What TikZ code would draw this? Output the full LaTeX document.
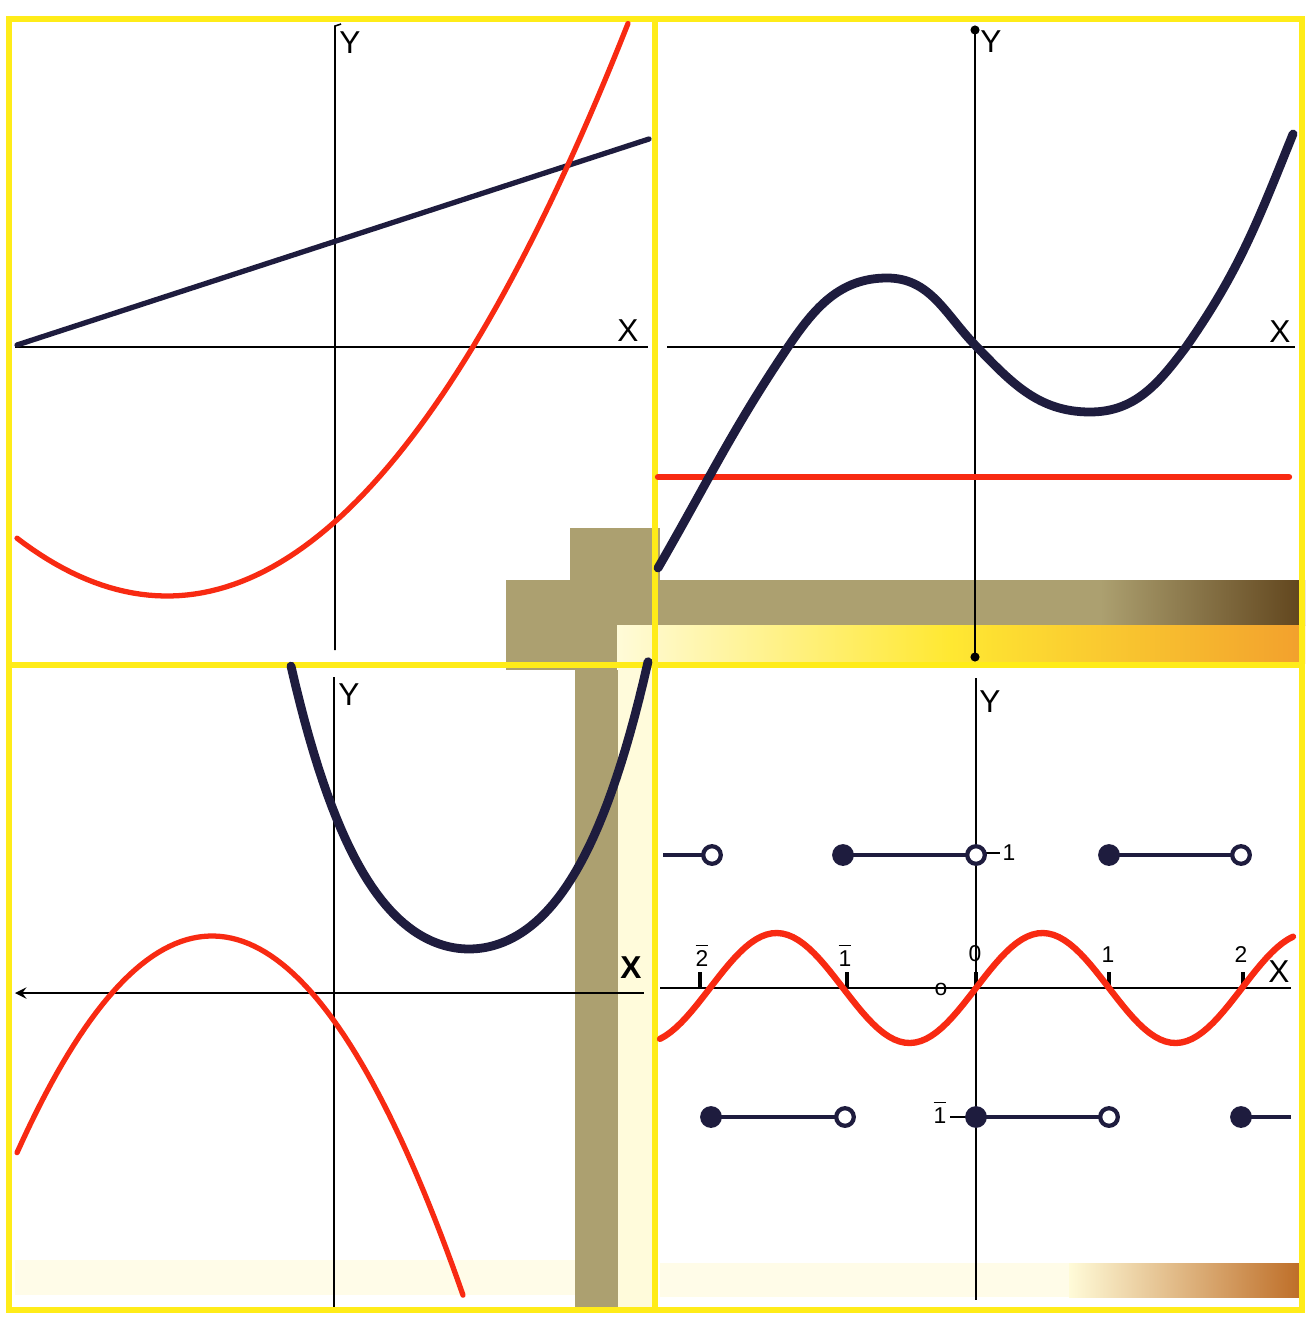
\documentclass[tikz,border=0pt]{standalone}
\usepackage{fontspec}
\setmainfont{Liberation Sans}
\definecolor{jaune}{RGB}{255,236,25}
\definecolor{rouge}{RGB}{248,42,18}
\definecolor{encre}{RGB}{30,28,62}
\definecolor{scotch}{RGB}{172,160,112}
\definecolor{scotchfonce}{RGB}{96,68,28}
\definecolor{scotchclair}{RGB}{255,248,190}
\definecolor{jaunevif}{RGB}{255,232,50}
\definecolor{orangeclair}{RGB}{242,160,45}
\definecolor{brunclair}{RGB}{190,110,40}
\newcommand{\barre}[1]{$\overline{\mbox{#1}}$}

\begin{document}
\begin{tikzpicture}[x=0.01cm, y=-0.01cm]
% définition des styles
\tikzstyle{cadre}=[draw=jaune, line width=1.5pt]
\tikzstyle{axe}=[draw=black, line width=0.45pt]
\tikzstyle{courberouge}=[draw=rouge, line width=1.5pt, line cap=round]
\tikzstyle{courbenoire}=[draw=encre, line width=2.5pt, line cap=round]
\tikzstyle{palier}=[draw=encre, line width=1.4pt]
\tikzstyle{ouvert}=[draw=encre, fill=white, line width=1.2pt]
\tikzstyle{lettre}=[font=\fontsize{9}{10}\selectfont, inner sep=0pt]
\tikzstyle{chiffre}=[font=\fontsize{6.5}{7}\selectfont, inner sep=0pt]

\useasboundingbox (0,0) rectangle (1305,1321);
\fill[white] (0,0) rectangle (1305,1321);

% le scotch
\fill[scotch] (570,528) rectangle (660,580);
\fill[scotch] (506,580) rectangle (1100,625);
\shade[left color=scotch, right color=scotchfonce] (1100,580) rectangle (1305,625);
\fill[scotch] (506,625) rectangle (617,670);
\fill[scotch] (575,670) rectangle (618,1311);
\shade[left color=scotchclair!60!white, right color=jaunevif] (617,625) rectangle (950,663);
\shade[left color=jaunevif, right color=orangeclair] (950,625) rectangle (1305,663);
\fill[scotchclair!55!white] (618,663) rectangle (652,1311);
\fill[scotchclair!35!white] (15,1260) rectangle (575,1295);
\fill[scotchclair!35!white] (660,1263) rectangle (1069,1297);
\shade[left color=scotchclair!60!white, right color=brunclair] (1069,1263) rectangle (1300,1297);

% les cadres
\draw[cadre] (9,19) rectangle (1302,1310);
\draw[cadre] (655,19) -- (655,1310);
\draw[cadre] (9,665) -- (1302,665);

% en haut à gauche : droite et parabole
\draw[axe] (15,347) -- (648,347);
\draw[axe] (341,24) -- (335,26) -- (335,650);
\node[lettre] (Y1) at (350,43) {Y};
\node[lettre] (X1) at (628,331) {X};
\draw[courbenoire, line width=1.5pt] (17,345) -- (649,139);
\draw[courberouge] plot[domain=17:628, samples=80] (\x, {596-26*((\x-167)/100)^2-0.204*((\x-167)/100)^3});

% en haut à droite : cubique et droite horizontale
\draw[axe] (667,347) -- (1295,347);
\draw[axe] (975,30) -- (975,657);
\fill (975,30) circle (1.3pt);
\fill (975,657) circle (1.3pt);
\node[lettre] (Y2) at (991,42) {Y};
\node[lettre] (X2) at (1280,332) {X};
\draw[courberouge, line width=1.8pt] (658,477) -- (1289,477);
\draw[courbenoire] (658,568) to[out=60, in=236] (788,347) to[out=56, in=180] (887,278)
  to[out=0, in=134] (975,345) to[out=-46, in=180] (1090,412) to[out=0, in=233] (1186,347)
  to[out=55, in=248] (1293,134);

% en bas à gauche : deux paraboles
\draw[axe, <-, >=stealth] (15,993) -- (644,993);
\draw[axe] (334,677) -- (334,1307);
\node[lettre] (Y3) at (349,695) {Y};
\node[lettre, font=\fontsize{9}{10}\selectfont\bfseries] (X3) at (631,968) {X};
\draw[courbenoire] plot[domain=291:648, samples=80] (\x, {949-56.08*((\x-469)/100)^2-10.48*((\x-469)/100)^4});
\draw[courberouge] plot[domain=17:463, samples=80] (\x, {936+57*((\x-212)/100)^2});

% en bas à droite : sinusoïde et fonction en escalier
\draw[axe] (660,988) -- (1291,988);
\draw[axe] (976,678) -- (976,1300);
\node[lettre] (Y4) at (990,702) {Y};
\node[lettre] (X4) at (1279,972) {X};
\foreach \t in {700,847,976,1109,1243}
  \draw[axe, line width=1pt] (\t,972) -- (\t,988);
\node[chiffre] (Am2) at (702,955) {\barre{2}};
\node[chiffre] (Am1) at (845,955) {\barre{1}};
\node[chiffre] (A0) at (975,954) {0};
\node[chiffre] (A1) at (1108,955) {1};
\node[chiffre] (A2) at (1241,955) {2};
\node[chiffre] (O) at (941,989) {o};
\draw[axe] (947,988) -- (972,988);
\draw[axe, line width=0.8pt] (985,853) -- (1000,853);
\node[chiffre] (B1) at (1009,853) {1};
\draw[axe, line width=0.8pt] (950,1117) -- (966,1117);
\node[chiffre] (Bm1) at (940,1112) {\barre{1}};
\draw[courberouge, line width=1.8pt] plot[domain=660:1293, samples=120] (\x, {988-55*sin(1.3534*(\x-976))});
\draw[palier] (663,855) -- (712,855);
\draw[palier] (843,855) -- (976,855);
\draw[palier] (1109,855) -- (1241,855);
\draw[palier] (711,1117) -- (845,1117);
\draw[palier] (976,1117) -- (1109,1117);
\draw[palier] (1241,1117) -- (1291,1117);
\foreach \p in {(843,855),(1109,855),(711,1117),(976,1117),(1241,1117)}
  \fill[encre] \p circle (3.1pt);
\foreach \p in {(712,855),(976,855),(1241,855),(845,1117),(1109,1117)}
  \draw[ouvert] \p circle (2.5pt);
\end{tikzpicture}
\end{document}
